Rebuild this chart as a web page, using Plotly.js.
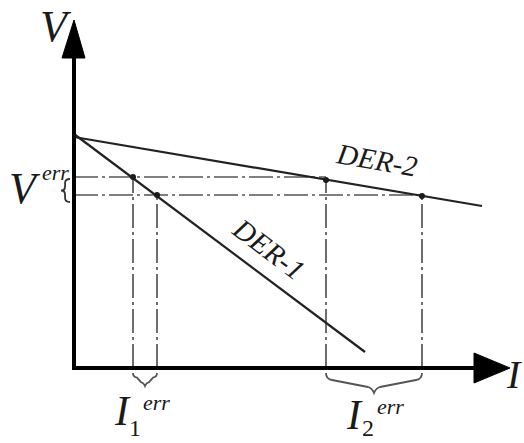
<!DOCTYPE html>
<html>
<head>
<meta charset="utf-8">
<script src="https://cdn.plot.ly/plotly-3.0.1.min.js"></script>
<style>
  html, body { margin: 0; padding: 0; background: #fff; }
  #chart { width: 524px; height: 443px; }
</style>
</head>
<body>
<div id="chart"></div>
<script>
// droop characteristics, in plot units (origin at the axes corner)
var der1I = [0, 291];
var der1V = [234, 16];
var der2I = [0, 408];
var der2V = [231, 162];

// error band levels and the currents they give
var vErr = [191, 173];
var i1Err = [59, 83];
var i2Err = [252, 348];
var der2AtI2 = [188, 172];

var iAxisEnd = 436;
var vAxisEnd = 348;

var ox = 74, oy = 368; // pixel position of the origin
function px(x) { return x - ox; }
function py(y) { return oy - y; }

var ink = '#1a1a1a';
var dashCol = '#555555';
var dashPat = '24px,4px,3px,4px';
var serif = 'Liberation Serif, Times New Roman, serif';

function dashed(xs, ys) {
  return { x: xs, y: ys, mode: 'lines', hoverinfo: 'skip',
    line: { color: dashCol, width: 1.7, dash: dashPat } };
}

var traces = [];
// guide lines
traces.push(dashed([0, i2Err[0]], [vErr[0], vErr[0]]));
traces.push(dashed([0, i2Err[1]], [vErr[1], vErr[1]]));
traces.push(dashed([i1Err[0], i1Err[0]], [0, vErr[0]]));
traces.push(dashed([i1Err[1], i1Err[1]], [0, vErr[1]]));
traces.push(dashed([i2Err[0], i2Err[0]], [0, der2AtI2[0]]));
traces.push(dashed([i2Err[1], i2Err[1]], [0, der2AtI2[1]]));

// droop lines
traces.push({ x: der1I, y: der1V, mode: 'lines', line: { color: '#222', width: 2.2 } });
traces.push({ x: der2I, y: der2V, mode: 'lines', line: { color: '#222', width: 2.2 } });

// operating points
traces.push({ x: i1Err, y: vErr, mode: 'markers', marker: { color: ink, size: 6 } });
traces.push({ x: i2Err, y: der2AtI2, mode: 'markers', marker: { color: ink, size: 6 } });

// axes with arrow heads
var headLen = 36, headHalf = 15;
traces.push({ x: [0, iAxisEnd - headLen + 2], y: [0, 0], mode: 'lines', line: { color: '#000', width: 4 } });
traces.push({ x: [0, 0], y: [-2, vAxisEnd - headLen + 2], mode: 'lines', line: { color: '#000', width: 4 } });
traces.push({ x: [iAxisEnd - headLen, iAxisEnd, iAxisEnd - headLen, iAxisEnd - headLen],
  y: [headHalf, 0, -headHalf, headHalf], mode: 'lines', fill: 'toself',
  fillcolor: '#000', line: { color: '#000', width: 1 } });
traces.push({ x: [-12, 0, 11, -12],
  y: [vAxisEnd - 38, vAxisEnd, vAxisEnd - 38, vAxisEnd - 38], mode: 'lines', fill: 'toself',
  fillcolor: '#000', line: { color: '#000', width: 1 } });

// curly braces, built in pixels then mapped to plot units
function hBrace(xa, xb, y0, d) {
  var xm = (xa + xb) / 2, q = Math.min(6, (xb - xa) / 6);
  var p = [
    'M', px(xa), py(y0),
    'Q', px(xa), py(y0 + d * 0.3), px(xa + q), py(y0 + d * 0.35),
    'L', px(xm - q), py(y0 + d * 0.7),
    'Q', px(xm - q / 3), py(y0 + d * 0.75), px(xm), py(y0 + d),
    'Q', px(xm + q / 3), py(y0 + d * 0.75), px(xm + q), py(y0 + d * 0.7),
    'L', px(xb - q), py(y0 + d * 0.35),
    'Q', px(xb), py(y0 + d * 0.3), px(xb), py(y0)
  ];
  return p.join(' ');
}
function vBrace(ya, yb, x0, d) {
  var ym = (ya + yb) / 2, q = 4, h = d * 0.55;
  var p = [
    'M', px(x0), py(ya),
    'Q', px(x0 - h), py(ya), px(x0 - h), py(ya + q),
    'L', px(x0 - h), py(ym - q),
    'Q', px(x0 - h), py(ym), px(x0 - d), py(ym),
    'Q', px(x0 - h), py(ym), px(x0 - h), py(ym + q),
    'L', px(x0 - h), py(yb - q),
    'Q', px(x0 - h), py(yb), px(x0), py(yb)
  ];
  return p.join(' ');
}

var shapes = [
  { type: 'path', xref: 'x', yref: 'y', line: { color: dashCol, width: 1.8 },
    path: hBrace(i1Err[0] + ox, i1Err[1] + ox, oy + 5, 13) },
  { type: 'path', xref: 'x', yref: 'y', line: { color: dashCol, width: 1.8 },
    path: hBrace(i2Err[0] + ox, i2Err[1] + ox, oy + 5, 20) },
  { type: 'path', xref: 'x', yref: 'y', line: { color: '#333', width: 1.8 },
    path: vBrace(oy - vErr[0] + 2, oy - vErr[1] + 7, 70, 9) }
];

function label(text, x, y, size, angle, anchor, vanchor) {
  return { text: text, x: px(x), y: py(y), xref: 'x', yref: 'y', showarrow: false,
    xanchor: anchor || 'center', yanchor: vanchor || 'middle', textangle: angle || 0,
    font: { family: serif, size: size, color: ink } };
}

var annotations = [
  label('<i>V</i>', 56, 26, 44),
  label('<i>V</i>', 25, 188, 44),
  label('<i>err</i>', 55, 172, 22),
  label('<i>I</i>', 122, 411, 42),
  label('1', 135, 443, 24, 0, 'center', 'bottom'),
  label('<i>err</i>', 156, 402, 22),
  label('<i>I</i>', 354, 415, 42),
  label('2', 368, 443, 24, 0, 'center', 'bottom'),
  label('<i>err</i>', 390, 406, 22),
  label('<i>I</i>', 524, 374, 40, 0, 'right'),
  label('<i>DER-2</i>', 377, 160, 29, 10),
  label('<i>DER-1</i>', 269, 249, 29, 37)
];

var layout = {
  width: 524,
  height: 443,
  margin: { l: 0, r: 0, t: 0, b: 0 },
  paper_bgcolor: '#fff',
  plot_bgcolor: '#fff',
  showlegend: false,
  xaxis: { range: [-ox, 524 - ox], visible: false, fixedrange: true },
  yaxis: { range: [oy - 443, oy], visible: false, fixedrange: true },
  shapes: shapes,
  annotations: annotations
};

Plotly.newPlot('chart', traces, layout, { staticPlot: true, displayModeBar: false });
</script>
</body>
</html>
